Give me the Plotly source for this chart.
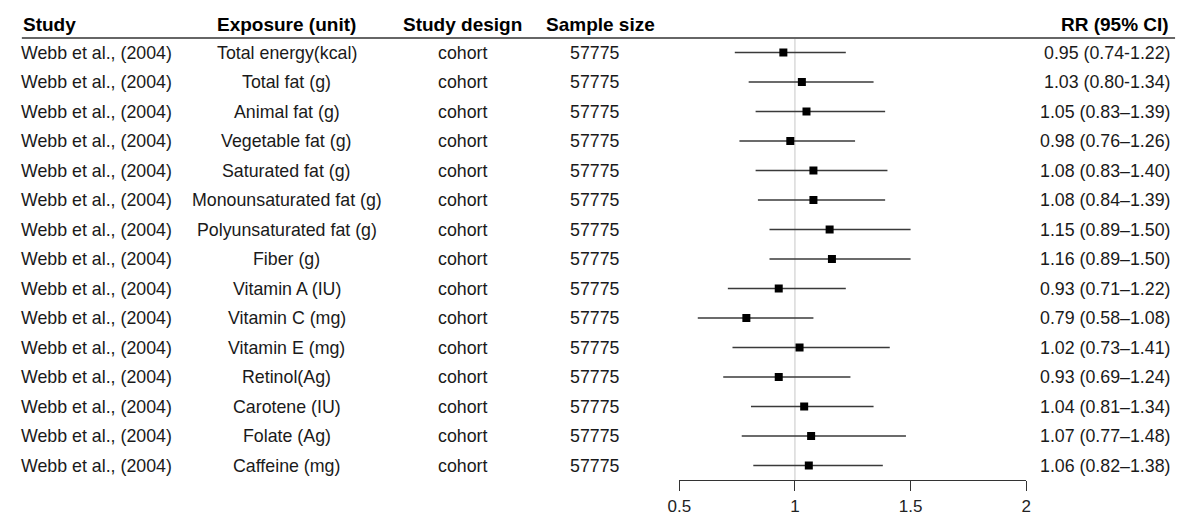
import plotly.graph_objects as go

studies = ["Webb et al., (2004)"] * 15
exposures = [
    "Total energy(kcal)", "Total fat (g)", "Animal fat (g)", "Vegetable fat (g)",
    "Saturated fat (g)", "Monounsaturated fat (g)", "Polyunsaturated fat (g)",
    "Fiber (g)", "Vitamin A (IU)", "Vitamin C (mg)", "Vitamin E (mg)",
    "Retinol(Ag)", "Carotene (IU)", "Folate (Ag)", "Caffeine (mg)",
]
designs = ["cohort"] * 15
sample_sizes = ["57775"] * 15
rr = [0.95, 1.03, 1.05, 0.98, 1.08, 1.08, 1.15, 1.16, 0.93, 0.79, 1.02, 0.93, 1.04, 1.07, 1.06]
lo = [0.74, 0.80, 0.83, 0.76, 0.83, 0.84, 0.89, 0.89, 0.71, 0.58, 0.73, 0.69, 0.81, 0.77, 0.82]
hi = [1.22, 1.34, 1.39, 1.26, 1.40, 1.39, 1.50, 1.50, 1.22, 1.08, 1.41, 1.24, 1.34, 1.48, 1.38]
ci_labels = [
    "0.95 (0.74-1.22)", "1.03 (0.80-1.34)", "1.05 (0.83\u20131.39)", "0.98 (0.76\u20131.26)",
    "1.08 (0.83\u20131.40)", "1.08 (0.84\u20131.39)", "1.15 (0.89\u20131.50)", "1.16 (0.89\u20131.50)",
    "0.93 (0.71\u20131.22)", "0.79 (0.58\u20131.08)", "1.02 (0.73\u20131.41)", "0.93 (0.69\u20131.24)",
    "1.04 (0.81\u20131.34)", "1.07 (0.77\u20131.48)", "1.06 (0.82\u20131.38)",
]
headers = ["Study", "Exposure (unit)", "Study design", "Sample size", "RR (95% CI)"]
tick_vals = [0.5, 1, 1.5, 2]
tick_text = ["0.5", "1", "1.5", "2"]

W, H = 1184, 517
rows = list(range(len(rr)))
row0_px, row_step = 52.5, 29.5
axis_px = 480


def px_to_row(p):
    return (p - row0_px) / row_step


FONT = "Liberation Sans, Arial, sans-serif"
TXT = "#1a1a1a"

fig = go.Figure()
fig.add_trace(go.Scatter(
    x=rr, y=rows, mode="markers",
    marker=dict(symbol="square", size=8, color="black"),
    error_x=dict(type="data", symmetric=False,
                 array=[h - r for h, r in zip(hi, rr)],
                 arrayminus=[r - l for r, l in zip(rr, lo)],
                 width=0, thickness=1.3, color="#3a3a3a"),
    hoverinfo="skip", showlegend=False,
))

col_x = [(8, "left"), (279, "center"), (457, "center"), (591, "center"), (1177, "right")]
head_x = [(10, "left"), (279, "center"), (457, "center"), (597, "center"), (1175, "right")]
columns = [studies, exposures, designs, sample_sizes, ci_labels]

ann = []
for (xp, anc), col in zip(col_x, columns):
    for i, t in enumerate(col):
        ann.append(dict(x=xp / W, xref="paper", y=rows[i], yref="y", text=t,
                        showarrow=False, xanchor=anc, yanchor="middle", borderpad=0,
                        font=dict(family=FONT, size=17.8, color=TXT)))
head_row = px_to_row(24)
for (xp, anc), h in zip(head_x, headers):
    ann.append(dict(x=xp / W, xref="paper", y=head_row, yref="y", text="<b>" + h + "</b>",
                    showarrow=False, xanchor=anc, yanchor="middle", borderpad=0,
                    font=dict(family=FONT, size=19, color="black")))

line_row = px_to_row(38)
axis_row = px_to_row(axis_px)
shapes = [
    dict(type="line", xref="paper", yref="y", x0=10 / W, x1=1180 / W, y0=line_row, y1=line_row,
         line=dict(color="#666666", width=2)),
    dict(type="line", xref="x", yref="y", x0=1, x1=1, y0=line_row, y1=axis_row,
         line=dict(color="#d0d0d0", width=1.2), layer="below"),
]

fig.update_layout(
    width=W, height=H, margin=dict(l=0, r=0, t=0, b=0),
    paper_bgcolor="white", plot_bgcolor="white",
    annotations=ann, shapes=shapes,
    xaxis=dict(domain=[677 / W, 1029 / W], range=[0.5, 2], tickvals=tick_vals, ticktext=tick_text,
               showgrid=False, zeroline=False, showline=True, linecolor="#333333", linewidth=1.2,
               ticks="outside", ticklen=10, tickwidth=1.2, tickcolor="#333333",
               tickfont=dict(family=FONT, size=17, color="#222222"), fixedrange=True),
    yaxis=dict(domain=[(H - axis_px) / H, 1], range=[axis_row, px_to_row(0)],
               visible=False, fixedrange=True),
)

fig.write_html("out.html")
